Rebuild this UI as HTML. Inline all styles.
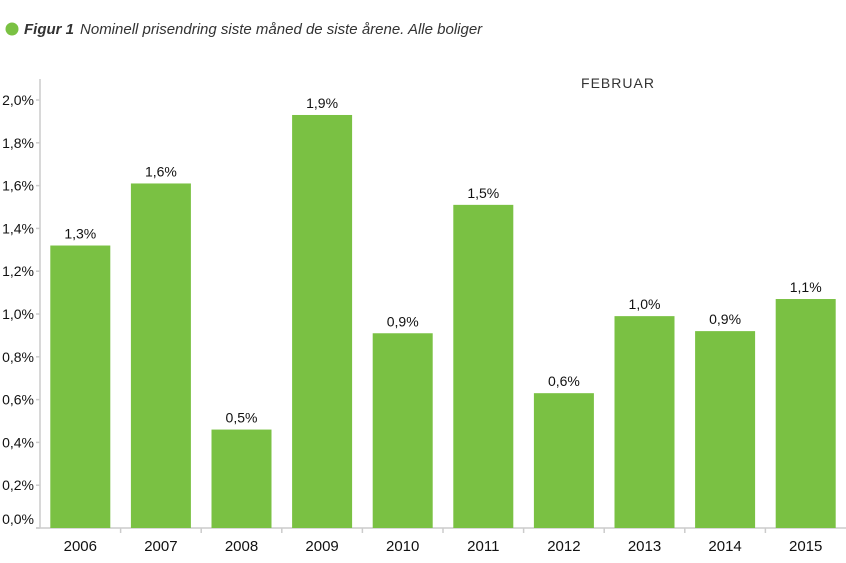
<!DOCTYPE html>
<html><head><meta charset="utf-8"><style>
body{margin:0;background:#fff;font-family:"Liberation Sans",sans-serif;}
svg text{font-family:"Liberation Sans",sans-serif;}
</style></head><body>
<svg width="846" height="558">
<circle cx="12" cy="29" r="6.5" fill="#7ac143"/>
<text x="24" y="34" font-size="15" fill="#333"><tspan font-weight="bold" font-style="italic">Figur 1</tspan><tspan font-style="italic" dx="6">Nominell prisendring siste måned de siste årene. Alle boliger</tspan></text>
<text x="618" y="88" font-size="14" fill="#333" text-anchor="middle" letter-spacing="1">FEBRUAR</text>
<g id="plot"></g>
</svg>
<script>
const categories=["2006","2007","2008","2009","2010","2011","2012","2013","2014","2015"];
const values=[1.32,1.61,0.46,1.93,0.91,1.51,0.63,0.99,0.92,1.07];
const valueLabels=["1,3%","1,6%","0,5%","1,9%","0,9%","1,5%","0,6%","1,0%","0,9%","1,1%"];
const tickValues=[0,0.2,0.4,0.6,0.8,1.0,1.2,1.4,1.6,1.8,2.0];
const tickLabels=["0,0%","0,2%","0,4%","0,6%","0,8%","1,0%","1,2%","1,4%","1,6%","1,8%","2,0%"];
const NS="http://www.w3.org/2000/svg";
const g=document.getElementById('plot');
const x0=40,x1=846,y0=528,pxPer=214;
const y=v=>y0-v*pxPer;
const step=(x1-x0)/categories.length;
const xc=i=>x0+step*(i+0.5);
function mk(t,a){const e=document.createElementNS(NS,t);for(const k in a)e.setAttribute(k,a[k]);g.appendChild(e);return e;}
let e;
e=mk('line',{x1:x0,y1:79,x2:x0,y2:y0,stroke:'#ccc','stroke-width':1.5});


e=mk('line',{x1:x0-4,y1:y0,x2:x1,y2:y0,stroke:'#ccc','stroke-width':1.5});


tickValues.forEach((v,i)=>{
  e=mk('line',{x1:x0-4,y1:y(v),x2:x0,y2:y(v),stroke:'#ccc','stroke-width':1.5});
  
  
  const ty=v===0?y(v)-4:y(v)+5;
  e=mk('text',{x:34,y:ty,'font-size':14,fill:'#111','text-anchor':'end'});
  e.textContent=tickLabels[i];
  
  
});
categories.forEach((c,i)=>{
  const bw=60,h=values[i]*pxPer;
  e=mk('rect',{x:xc(i)-bw/2,y:y(values[i]),width:bw,height:h,fill:'#7ac143'});
  
  
  e=mk('text',{x:xc(i),y:y(values[i])-7,'font-size':14,fill:'#111','text-anchor':'middle'});
  e.textContent=valueLabels[i];
  
  
  e=mk('text',{x:xc(i),y:551,'font-size':15,fill:'#111','text-anchor':'middle'});
  e.textContent=c;
  
  
  if(i>0){
    e=mk('line',{x1:x0+step*i,y1:y0,x2:x0+step*i,y2:y0+5,stroke:'#ccc','stroke-width':1.5});
    
    
  }
});
</script>
</body></html>
